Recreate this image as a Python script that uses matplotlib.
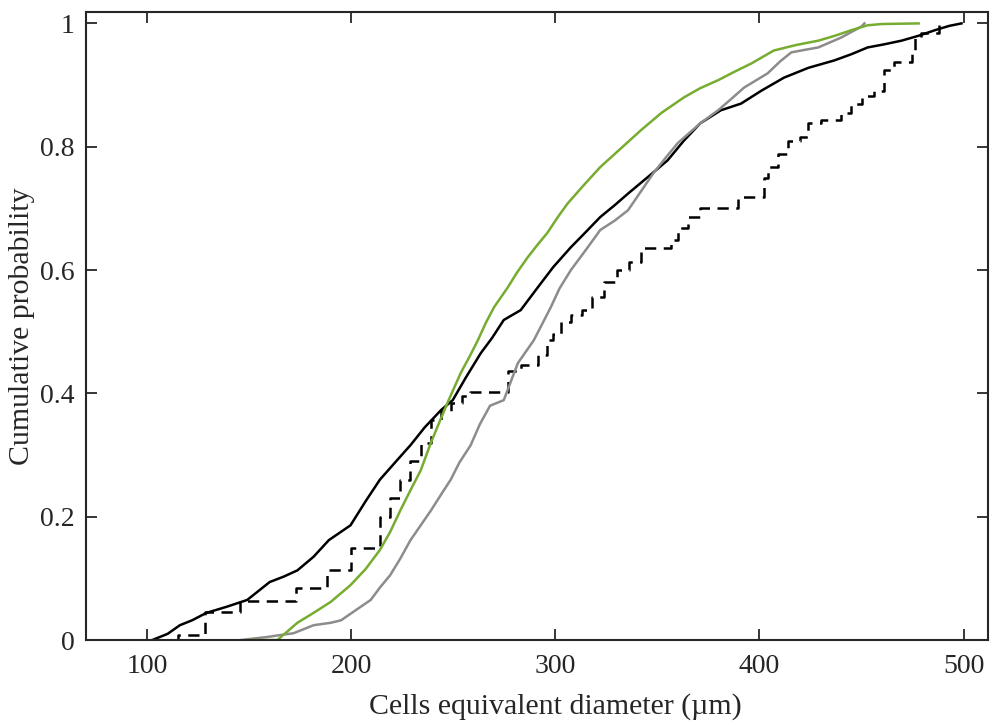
import numpy as np
import matplotlib.pyplot as plt

# Кривые накопленной вероятности
black_x = [102.5, 110, 116, 122, 129, 139, 149, 160, 167, 173.6, 181.5, 189, 199.6, 207, 214, 222, 229,
           236, 244, 249.7, 256, 263.4, 269, 274.7, 283, 291.4, 299, 307.6, 315, 322, 329, 335.6, 345,
           355, 363, 371, 381, 391, 401, 412, 424, 436.7, 445, 453, 461, 469.6, 478, 486, 493, 499]
black_y = [0.0, 0.01, 0.024, 0.032, 0.044, 0.054, 0.065, 0.094, 0.103, 0.113, 0.135, 0.162, 0.186,
           0.225, 0.26, 0.29, 0.316, 0.345, 0.373, 0.389, 0.425, 0.465, 0.49, 0.519, 0.535, 0.572, 0.605,
           0.637, 0.662, 0.686, 0.705, 0.724, 0.75, 0.778, 0.81, 0.838, 0.859, 0.870, 0.891, 0.912,
           0.928, 0.94, 0.95, 0.961, 0.966, 0.972, 0.98, 0.989, 0.996, 1.0]

green_x = [150, 163.8, 168, 173.6, 181.5, 190, 199.6, 207, 214, 219, 224, 229, 234, 239, 244, 247.7,
           253.6, 258, 262, 266, 270, 276.7, 281, 286.5, 291, 296, 301, 306, 314, 322, 332, 342, 352,
           363, 371, 379.8, 388, 396, 407, 418, 428.8, 437, 445, 453, 460, 478]
green_y = [0.0, 0.0, 0.012, 0.028, 0.044, 0.062, 0.089, 0.115, 0.146, 0.175, 0.21, 0.243, 0.275, 0.32,
           0.36, 0.389, 0.433, 0.46, 0.486, 0.515, 0.54, 0.572, 0.595, 0.621, 0.64, 0.66, 0.685, 0.708,
           0.738, 0.767, 0.797, 0.827, 0.855, 0.88, 0.895, 0.908, 0.922, 0.935, 0.956, 0.965, 0.972,
           0.98, 0.989, 0.997, 0.999, 1.0]

gray_x = [146, 159, 165, 171.7, 181.5, 190, 195, 202, 209.5, 214, 219, 224, 229, 234, 239, 244, 248.7,
          253, 258.5, 263, 268, 274.7, 281.6, 289.4, 297.8, 302, 307.6, 315, 322, 329, 335.6, 342, 348,
          354, 360, 371, 379.7, 386, 392.5, 404, 410, 415.6, 422, 428.8, 440, 445, 450, 451.4]
gray_y = [0.0, 0.005, 0.008, 0.011, 0.024, 0.028, 0.032, 0.048, 0.065, 0.085, 0.105, 0.132, 0.162,
          0.186, 0.21, 0.236, 0.26, 0.288, 0.316, 0.35, 0.38, 0.389, 0.449, 0.486, 0.54, 0.57, 0.60,
          0.633, 0.665, 0.68, 0.697, 0.728, 0.757, 0.782, 0.806, 0.838, 0.859, 0.877, 0.896, 0.919,
          0.938, 0.953, 0.957, 0.961, 0.977, 0.986, 0.995, 1.0]

# Пунктирная ступенчатая кривая
dash_x = [113, 115, 128.5, 145.6, 173, 188, 200, 214, 219, 224, 229, 234, 239, 244, 249, 254, 258,
          276.7, 283, 291.4, 296, 299, 302.7, 307.6, 313, 318, 324, 330, 336, 342, 356.7, 360, 365, 371,
          389.6, 402.3, 404, 409, 414, 420, 424, 430, 440, 445, 450, 456, 461, 466, 474.5, 476, 479, 488]
dash_y = [0.0, 0.008, 0.045, 0.063, 0.084, 0.113, 0.149, 0.2, 0.23, 0.26, 0.29, 0.32, 0.357, 0.372,
          0.385, 0.395, 0.402, 0.437, 0.446, 0.462, 0.486, 0.497, 0.515, 0.527, 0.535, 0.556, 0.58, 0.60,
          0.613, 0.635, 0.648, 0.669, 0.686, 0.70, 0.718, 0.75, 0.767, 0.789, 0.81, 0.815, 0.838, 0.843,
          0.854, 0.870, 0.883, 0.891, 0.924, 0.937, 0.951, 0.977, 0.985, 1.0]

plt.rcParams['font.family'] = ['Liberation Serif', 'DejaVu Serif']

fig = plt.figure(figsize=(9.93, 7.24), dpi=100)
ax = fig.add_axes([0.0866, 0.116, 0.9084, 0.867])

ax.plot(black_x, black_y, color='black', lw=1.8)
ax.plot(dash_x, dash_y, color='black', lw=1.8, drawstyle='steps-post', dashes=(4.5, 3))
ax.plot(gray_x, gray_y, color='#8c8c8c', lw=1.8)
ax.plot(green_x, green_y, color='#77AC30', lw=1.8)

ax.set_xlim(70, 512)
ax.set_ylim(0, 1.018)
ax.set_xticks([100, 200, 300, 400, 500])
ax.set_yticks([0, 0.2, 0.4, 0.6, 0.8, 1])
ax.set_yticklabels(['0', '0.2', '0.4', '0.6', '0.8', '1'])
ax.tick_params(direction='in', length=8, width=1.3, top=True, right=True,
               labelsize=20, colors='#262626')
ax.tick_params(axis='x', pad=10)
ax.tick_params(axis='y', pad=8)
for s in ax.spines.values():
    s.set_linewidth(1.5)
    s.set_color('#262626')

ax.set_xlabel('Cells equivalent diameter (µm)', fontsize=21.5, color='#262626')
ax.set_ylabel('Cumulative probability', fontsize=21.5, color='#262626', labelpad=4)
ax.xaxis.set_label_coords(0.52, -0.085)

fig.savefig('out.png', dpi=100)
